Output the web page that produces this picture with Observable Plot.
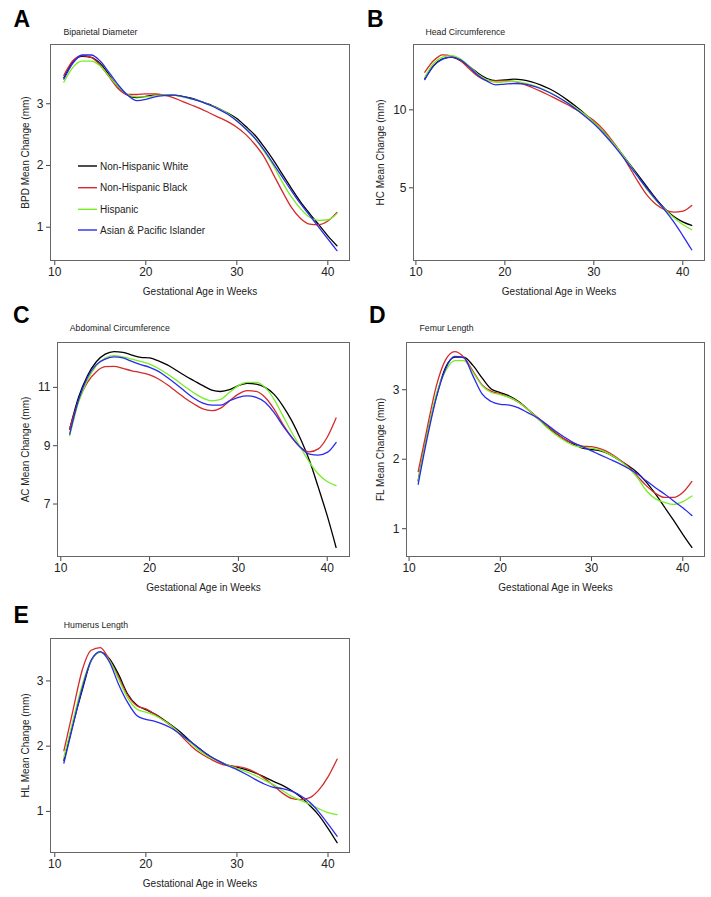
<!DOCTYPE html>
<html>
<head>
<meta charset="utf-8">
<script src="https://cdn.jsdelivr.net/npm/d3@7"></script>
<script src="https://cdn.jsdelivr.net/npm/@observablehq/plot@0.6"></script>
<style>
  html, body { margin: 0; padding: 0; background: #fff; }
  body { font-family: "Liberation Sans", Arial, sans-serif; }
  #page { position: relative; width: 711px; height: 897px; overflow: hidden; }
  .panel { position: absolute; }
  .panel svg { overflow: visible; }
  .legend { position: absolute; left: 70px; top: 150px; }
</style>
</head>
<body>
<div id="page"></div>
<script>
// ---- data ----
const weeks = [11,12,13,14,15,16,17,18,19,20,21,22,23,24,25,26,27,28,29,30,31,32,33,34,35,36,37,38,39,40,41];
const groups = ["Non-Hispanic White", "Non-Hispanic Black", "Hispanic", "Asian & Pacific Islander"];
const groupColors = ["#000000", "#d42a2a", "#77ee22", "#2a2aee"];
const xTicks = [10, 20, 30, 40];

// Biparietal diameter
const bpdWhite    = [3.42,3.68,3.77,3.75,3.65,3.46,3.26,3.14,3.10,3.12,3.14,3.14,3.14,3.12,3.09,3.04,2.99,2.92,2.85,2.76,2.63,2.49,2.30,2.09,1.86,1.63,1.41,1.22,1.04,0.86,0.70];
const bpdBlack    = [3.46,3.70,3.78,3.75,3.62,3.43,3.24,3.15,3.15,3.16,3.16,3.14,3.10,3.04,2.98,2.92,2.85,2.78,2.71,2.62,2.50,2.34,2.14,1.86,1.58,1.32,1.14,1.05,1.04,1.10,1.24];
const bpdHispanic = [3.35,3.59,3.69,3.69,3.61,3.44,3.27,3.15,3.11,3.11,3.13,3.14,3.14,3.11,3.08,3.04,2.98,2.92,2.84,2.73,2.59,2.43,2.23,2.00,1.73,1.49,1.30,1.16,1.11,1.12,1.22];
const bpdAsian    = [3.40,3.66,3.79,3.79,3.69,3.50,3.30,3.14,3.05,3.07,3.11,3.13,3.14,3.12,3.08,3.04,2.98,2.91,2.83,2.72,2.59,2.44,2.25,2.03,1.81,1.59,1.38,1.19,1.00,0.81,0.62];

// Head circumference
const hcWhite    = [11.99,12.84,13.27,13.38,13.16,12.78,12.35,12.01,11.88,11.92,11.97,11.92,11.79,11.60,11.35,11.03,10.64,10.21,9.74,9.21,8.63,7.99,7.29,6.54,5.79,5.04,4.29,3.65,3.16,2.82,2.59];
const hcBlack    = [12.41,13.16,13.53,13.46,13.16,12.63,12.14,11.88,11.86,11.86,11.82,11.67,11.45,11.20,10.92,10.64,10.34,10.02,9.70,9.32,8.78,8.08,7.29,6.32,5.36,4.51,3.93,3.59,3.44,3.50,3.87];
const hcHispanic = [12.09,12.99,13.38,13.48,13.27,12.80,12.26,11.92,11.77,11.79,11.82,11.75,11.60,11.39,11.13,10.81,10.47,10.11,9.70,9.21,8.63,7.99,7.29,6.50,5.68,4.87,4.19,3.59,3.08,2.65,2.31];
const hcAsian    = [11.94,12.82,13.25,13.38,13.21,12.74,12.20,11.84,11.60,11.65,11.69,11.67,11.56,11.37,11.11,10.81,10.45,10.04,9.59,9.10,8.53,7.88,7.18,6.43,5.68,4.94,4.23,3.55,2.80,1.94,1.03];

// Abdominal circumference
const acWhite    = [9.57,10.66,11.40,11.88,12.14,12.23,12.20,12.11,12.03,12.01,11.91,11.77,11.59,11.40,11.23,11.06,10.91,10.86,10.92,11.06,11.14,11.11,11.00,10.77,10.37,9.86,9.23,8.49,7.57,6.60,5.51];
const acBlack    = [9.57,10.54,11.17,11.54,11.71,11.72,11.65,11.57,11.51,11.43,11.29,11.09,10.86,10.63,10.43,10.26,10.20,10.29,10.54,10.77,10.89,10.86,10.66,10.26,9.74,9.29,8.94,8.79,8.89,9.29,9.95];
const acHispanic = [9.34,10.49,11.25,11.74,12.01,12.09,12.05,11.97,11.89,11.80,11.65,11.46,11.25,11.02,10.81,10.63,10.54,10.59,10.83,11.06,11.17,11.17,11.00,10.60,10.03,9.46,8.94,8.43,8.03,7.77,7.63];
const acAsian    = [9.40,10.57,11.34,11.78,11.97,12.05,12.01,11.89,11.78,11.69,11.55,11.34,11.11,10.86,10.63,10.46,10.39,10.39,10.54,10.66,10.71,10.66,10.49,10.14,9.69,9.29,8.94,8.71,8.68,8.77,9.11];

// Femur length
const flWhite    = [1.69,2.36,2.91,3.32,3.47,3.47,3.35,3.17,3.01,2.96,2.91,2.83,2.72,2.60,2.48,2.38,2.29,2.22,2.16,2.14,2.12,2.07,1.99,1.91,1.81,1.67,1.50,1.31,1.12,0.92,0.73];
const flBlack    = [1.82,2.46,3.06,3.43,3.55,3.47,3.27,3.07,2.98,2.94,2.89,2.82,2.72,2.61,2.50,2.39,2.29,2.23,2.19,2.18,2.15,2.09,2.00,1.90,1.76,1.62,1.51,1.45,1.45,1.52,1.68];
const flHispanic = [1.69,2.36,2.94,3.27,3.42,3.42,3.25,3.06,2.96,2.93,2.89,2.82,2.72,2.60,2.47,2.36,2.27,2.20,2.17,2.16,2.13,2.07,1.99,1.88,1.74,1.55,1.43,1.38,1.35,1.39,1.47];
const flAsian    = [1.64,2.31,2.89,3.30,3.48,3.46,3.20,2.94,2.83,2.79,2.78,2.74,2.67,2.60,2.51,2.41,2.32,2.24,2.18,2.12,2.06,2.00,1.94,1.87,1.79,1.69,1.59,1.50,1.40,1.30,1.19];

// Humerus length
const hlWhite    = [1.78,2.34,2.85,3.31,3.44,3.34,3.10,2.80,2.63,2.56,2.49,2.40,2.30,2.19,2.06,1.95,1.85,1.77,1.71,1.68,1.64,1.59,1.53,1.46,1.40,1.32,1.22,1.09,0.94,0.74,0.52];
const hlBlack    = [1.93,2.55,3.16,3.47,3.51,3.32,3.06,2.78,2.62,2.57,2.49,2.39,2.28,2.14,2.00,1.89,1.81,1.74,1.70,1.69,1.66,1.60,1.51,1.40,1.28,1.20,1.18,1.21,1.33,1.53,1.80];
const hlHispanic = [1.83,2.39,2.93,3.31,3.44,3.31,3.03,2.74,2.57,2.52,2.47,2.39,2.29,2.16,2.04,1.92,1.83,1.77,1.71,1.66,1.61,1.55,1.48,1.41,1.32,1.23,1.17,1.11,1.04,0.98,0.95];
const hlAsian    = [1.74,2.32,2.88,3.32,3.45,3.29,2.95,2.67,2.47,2.41,2.38,2.33,2.26,2.16,2.06,1.95,1.85,1.77,1.70,1.64,1.57,1.49,1.42,1.37,1.35,1.31,1.24,1.14,0.99,0.81,0.62];

const panelLetters = ["A", "B", "C", "D", "E"];
const panelTitles = ["Biparietal Diameter", "Head Circumference", "Abdominal Circumference", "Femur Length", "Humerus Length"];
const yLabels = ["BPD Mean Change (mm)", "HC Mean Change (mm)", "AC Mean Change (mm)", "FL Mean Change (mm)", "HL Mean Change (mm)"];
const yTickSets = [[1, 2, 3], [5, 10], [7, 9, 11], [1, 2, 3], [1, 2, 3]];
const xLabel = "Gestational Age in Weeks";

const seriesSets = [
  [bpdWhite, bpdBlack, bpdHispanic, bpdAsian],
  [hcWhite, hcBlack, hcHispanic, hcAsian],
  [acWhite, acBlack, acHispanic, acAsian],
  [flWhite, flBlack, flHispanic, flAsian],
  [hlWhite, hlBlack, hlHispanic, hlAsian]
];

// ---- layout (positions / sizes) ----
const layout = [
  {left: 0,   top: 0,   w: 355, h: 300, ml: 50, mr: 6, mt: 44, mb: 40, xd: [9.53, 42.38], yd: [0.46, 3.96],
   sub: [13, -12.3], let: [-37, -25], yl: -25, xl: 31.7},
  {left: 355, top: 0,   w: 356, h: 300, ml: 58, mr: 7, mt: 44, mb: 40, xd: [9.73, 42.44], yd: [0.34, 14.19],
   sub: [12, -12.3], let: [-46.5, -25], yl: -33, xl: 31.7},
  {left: 0,   top: 300, w: 355, h: 300, ml: 57, mr: 6, mt: 42, mb: 44, xd: [9.63, 42.51], yd: [5.2, 12.54],
   sub: [12.3, -14.4], let: [-44.5, -26.7], yl: -31.7, xl: 31.3},
  {left: 355, top: 300, w: 356, h: 300, ml: 51, mr: 7, mt: 42, mb: 44, xd: [9.72, 42.38], yd: [0.6, 3.68],
   sub: [13, -14.4], let: [-37.5, -26.7], yl: -25.7, xl: 31.3},
  {left: 0,   top: 600, w: 355, h: 297, ml: 50, mr: 6, mt: 38, mb: 45, xd: [9.53, 42.36], yd: [0.37, 3.65],
   sub: [13.3, -13.7], let: [-37, -22.7], yl: -25, xl: 31.7}
];

const page = document.getElementById("page");
const fmt = d => String(d);

seriesSets.forEach((set, i) => {
  const L = layout[i];
  const rows = [];
  set.forEach((vals, g) => {
    vals.forEach((v, k) => rows.push({week: weeks[k], value: v, group: groups[g]}));
  });
  const chart = Plot.plot({
    width: L.w,
    height: L.h,
    marginLeft: L.ml,
    marginRight: L.mr,
    marginTop: L.mt,
    marginBottom: L.mb,
    style: {fontFamily: "'Liberation Sans', Arial, sans-serif", fontSize: "12px", color: "#222", background: "transparent", overflow: "visible"},
    x: {domain: L.xd},
    y: {domain: L.yd},
    color: {domain: groups, range: groupColors},
    marks: [
      Plot.axisX({ticks: xTicks, tickFormat: fmt, tickSize: 5, tickPadding: 2, label: null, fontSize: 12, stroke: "#444"}),
      Plot.axisY({ticks: yTickSets[i], tickFormat: fmt, tickSize: 4, tickPadding: 3, label: null, fontSize: 12, stroke: "#444"}),
      Plot.line(rows, {x: "week", y: "value", z: "group", stroke: "group", strokeWidth: 1.3, curve: "monotone-x"}),
      Plot.frame({stroke: "#666", strokeWidth: 1}),
      Plot.text([panelTitles[i]], {frameAnchor: "top-left", dx: L.sub[0], dy: L.sub[1], textAnchor: "start", lineAnchor: "middle", fontSize: 8.7, fill: "#222"}),
      Plot.text([panelLetters[i]], {frameAnchor: "top-left", dx: L.let[0], dy: L.let[1], textAnchor: "start", lineAnchor: "middle", fontSize: 23, fontWeight: 900, fill: "#000"}),
      Plot.text([yLabels[i]], {frameAnchor: "left", dx: L.yl, rotate: -90, textAnchor: "middle", lineAnchor: "middle", fontSize: 10, fill: "#222"}),
      Plot.text([xLabel], {frameAnchor: "bottom", dy: L.xl, textAnchor: "middle", lineAnchor: "middle", fontSize: 10, fill: "#222"})
    ]
  });
  const div = document.createElement("div");
  div.className = "panel";
  div.style.left = L.left + "px";
  div.style.top = L.top + "px";
  div.appendChild(chart);
  page.appendChild(div);
});

// legend inside panel A (SVG; origin at page (70,150))
const legendDiv = document.createElement("div");
legendDiv.className = "legend";
const lsvg = d3.create("svg").attr("width", 180).attr("height", 100)
  .style("font-family", "'Liberation Sans', Arial, sans-serif").style("font-size", "10px");
const rowY = [16, 37.7, 59.3, 80];
groups.forEach((g, i) => {
  lsvg.append("line").attr("x1", 8).attr("x2", 27).attr("y1", rowY[i]).attr("y2", rowY[i])
    .attr("stroke", groupColors[i]).attr("stroke-width", 1.4);
  lsvg.append("text").attr("x", 30).attr("y", rowY[i]).attr("dy", "0.35em")
    .attr("fill", "#222").text(g);
});
legendDiv.appendChild(lsvg.node());
page.appendChild(legendDiv);
</script>
</body>
</html>
